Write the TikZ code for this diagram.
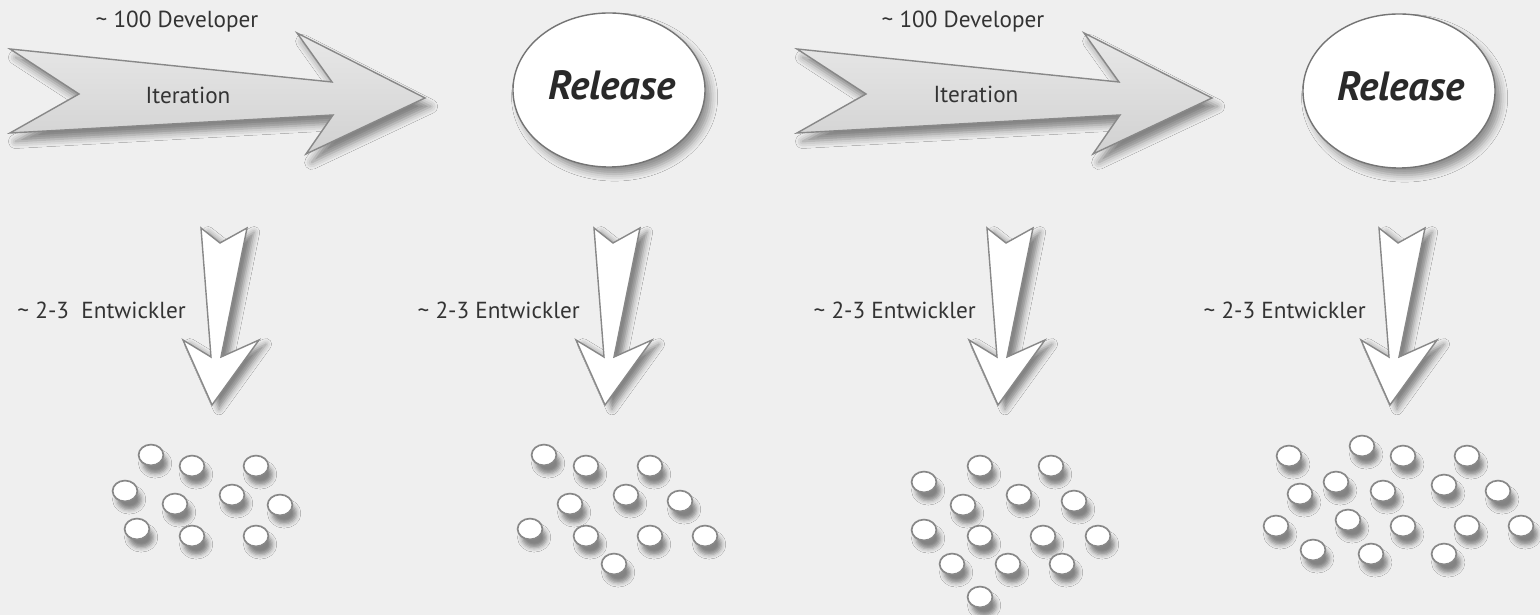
\documentclass[tikz,border=0pt]{standalone}
\usepackage{fontspec}
\setmainfont{PT Sans}
\usetikzlibrary{positioning}
\usetikzlibrary{shapes.geometric}
\usetikzlibrary{shadows.blur}
\definecolor{bg}{HTML}{EFEFEF}
\definecolor{edge}{HTML}{888888}
\definecolor{txt}{HTML}{333333}
\tikzstyle{iter} = [draw=edge, line width=1pt, top color=black!9, bottom color=black!18, blur shadow={shadow xshift=4pt, shadow yshift=-6pt, shadow blur radius=5pt, shadow opacity=45}]
\tikzstyle{down} = [draw=edge, line width=1pt, fill=white, blur shadow={shadow xshift=5pt, shadow yshift=-3pt, shadow blur radius=4pt, shadow opacity=45}]
\tikzstyle{release} = [draw=edge!85!black, line width=1pt, ellipse, fill=white, inner sep=0pt, minimum width=4.8cm, minimum height=3.85cm, blur shadow={shadow xshift=4pt, shadow yshift=-5pt, shadow blur radius=5pt, shadow opacity=40}]
\tikzstyle{reltext} = [text=txt!80!black, font=\fontsize{29}{31}\selectfont\bfseries\itshape, inner sep=0pt]
\tikzstyle{dev} = [draw=edge, line width=1.2pt, fill=white, blur shadow={shadow xshift=3pt, shadow yshift=-6pt, shadow blur radius=3pt, shadow opacity=45}]
\tikzstyle{lbl} = [text=txt, font=\fontsize{16.5}{18}\selectfont, inner sep=0pt]

\begin{document}
\begin{tikzpicture}[x=0.025cm, y=-0.025cm]
    \useasboundingbox (0,0) rectangle (1540,615);
    \fill[bg] (0,0) rectangle (1540,615);

    % iterations
    \foreach \t in {425,1212}
        \draw[iter, shift={(\t,98)}] (-415,-49) -- (-346,-4) -- (-415,35) -- (-92,17) -- (-119,56) -- (0,0) -- (-128,-65) -- (-93,-16) -- cycle;
    \node[lbl] (dev1) at (177,22) {\textasciitilde{} 100 Developer};
    \node[lbl] (it1) at (188,95) {Iteration};
    \node[lbl] (dev2) at (963,22) {\textasciitilde{} 100 Developer};
    \node[lbl] (it2) at (976,94) {Iteration};

    % releases
    \node[release] (rel1) at (609,90) {};
    \node[reltext] (reltxt1) at (612,85) {Release};
    \node[release] (rel2) at (1399,91) {};
    \node[reltext] (reltxt2) at (1401,86) {Release};

    % down to the developers
    \foreach \t in {212,605,998,1390}
        \draw[down, shift={(\t,405)}] (-11,-177) -- (8,-162) -- (35,-177) -- (9,-48) -- (47,-65) -- (0,0) -- (-29,-65) -- (-1,-48) -- cycle;
    \node[lbl, anchor=east] (ent1) at (186,310) {\textasciitilde{} 2-3\ \ Entwickler};
    \node[lbl, anchor=east] (ent2) at (580,310) {\textasciitilde{} 2-3 Entwickler};
    \node[lbl, anchor=east] (ent3) at (976,310) {\textasciitilde{} 2-3 Entwickler};
    \node[lbl, anchor=east] (ent4) at (1366,310) {\textasciitilde{} 2-3 Entwickler};

    % developers
    \foreach \p in {(151,455),(192,466),(256,466),(125,491),(175,504),(232,495),(280,505),(137,529),(192,536),(256,536),
                    (544,455),(586,466),(650,466),(570,504),(626,495),(680,501),(530,529),(586,536),(650,536),(705,536),(614,564),
                    (924,482),(980,466),(1051,466),(963,505),(1019,495),(1074,501),(924,530),(980,536),(1043,536),(1098,536),(952,564),(1008,564),(1062,564),(980,597),
                    (1289,456),(1362,446),(1403,456),(1467,456),(1300,494),(1336,482),(1383,491),(1444,485),(1498,491),(1276,526),(1348,520),(1403,526),(1467,526),(1521,526),(1313,550),(1371,554),(1444,554)}
        \draw[dev] \p ellipse (0.31cm and 0.26cm);
\end{tikzpicture}
\end{document}
